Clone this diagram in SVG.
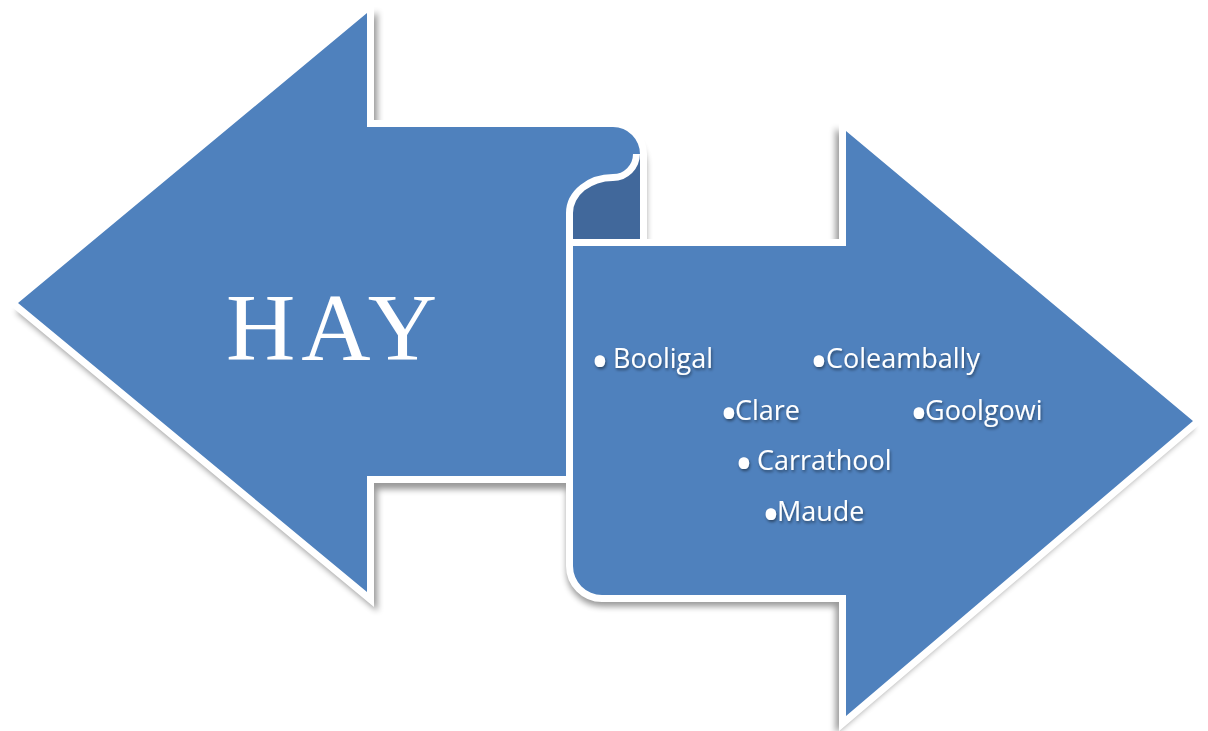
<svg xmlns="http://www.w3.org/2000/svg" xmlns:xlink="http://www.w3.org/1999/xlink" width="1208" height="731" viewBox="0 0 1208 731">
  <defs>
    <style>
      .shape { fill: #4f81bd; stroke: #ffffff; stroke-width: 14; stroke-linejoin: miter; paint-order: stroke; }
      .curl { fill: #41689b; stroke: #ffffff; stroke-width: 14; paint-order: stroke; }
      .shadow { fill: #000; stroke: #000; stroke-width: 14; }
      .item { font-family: "Open Sans", "Liberation Sans", sans-serif; font-size: 27px; fill: #ffffff; }
      .bul { font-size: 50px; }
      .title { font-family: "Liberation Serif", "Times New Roman", serif; font-size: 96px; letter-spacing: 6px; fill: #ffffff; }
    </style>
    <path id="pLeft" d="M18,303 L367,13 L367,127 L613,127 A27,27 0 0 1 640,154 L640,476 L367,476 L367,592 Z"/>
    <path id="pCurl" d="M640,154 A27,27 0 0 1 613,181 A40,32 0 0 0 573,213 L573,246 L640,246 Z"/>
    <path id="pRight" d="M573,246 L573,566 A29,29 0 0 0 602,595 L846,595 L846,716 L1193,421 L846,131 L846,246 Z"/>
    <filter id="blur" x="-10%" y="-10%" width="120%" height="120%">
      <feGaussianBlur stdDeviation="3"/>
    </filter>
    <filter id="tshadow" x="-10%" y="-30%" width="120%" height="160%">
      <feDropShadow dx="1" dy="2" stdDeviation="1.5" flood-color="#000" flood-opacity="0.45"/>
    </filter>
  </defs>

  <rect width="1208" height="731" fill="#ffffff"/>

  <g id="shadow" opacity="0.4" filter="url(#blur)" transform="translate(9.075,13.475) scale(0.985)">
    <use xlink:href="#pLeft" class="shadow"/>
    <use xlink:href="#pRight" class="shadow"/>
  </g>

  <g id="left-arrow">
    <use xlink:href="#pLeft" class="shape"/>
    <text class="title" x="226" y="360">HAY</text>
  </g>

  <g id="scroll-curl">
    <use xlink:href="#pCurl" class="curl"/>
  </g>

  <g id="right-arrow">
    <use xlink:href="#pRight" class="shape"/>
    <g filter="url(#tshadow)">
      <text class="item" y="368"><tspan class="bul" x="590.5" dy="11">•</tspan><tspan x="613" dy="-11">Booligal</tspan></text>
      <text class="item" y="368"><tspan class="bul" x="809.5" dy="11">•</tspan><tspan x="826" dy="-11">Coleambally</tspan></text>
      <text class="item" y="420"><tspan class="bul" x="719.5" dy="11">•</tspan><tspan x="735" dy="-11">Clare</tspan></text>
      <text class="item" y="420"><tspan class="bul" x="909.5" dy="11">•</tspan><tspan x="925" dy="-11">Goolgowi</tspan></text>
      <text class="item" y="470"><tspan class="bul" x="734.5" dy="11">•</tspan><tspan x="757" dy="-11">Carrathool</tspan></text>
      <text class="item" y="521"><tspan class="bul" x="761.5" dy="11">•</tspan><tspan x="777" dy="-11">Maude</tspan></text>
    </g>
  </g>
</svg>
